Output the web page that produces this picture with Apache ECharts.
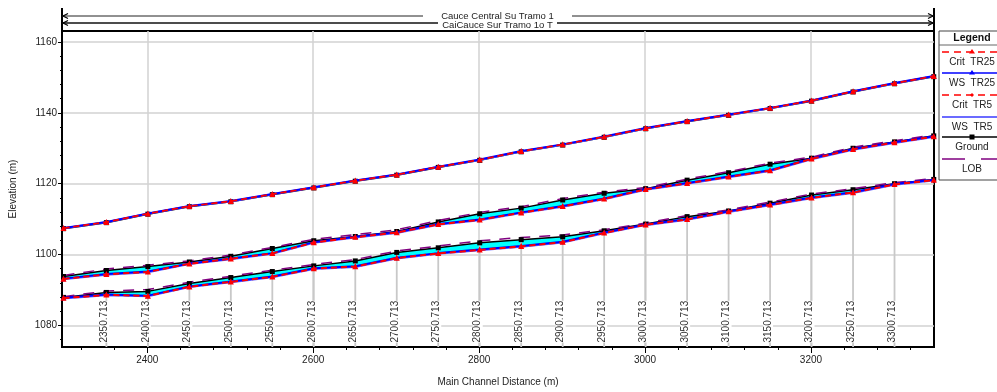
<!DOCTYPE html>
<html>
<head>
<meta charset="utf-8">
<script src="https://cdn.jsdelivr.net/npm/echarts@6/dist/echarts.min.js"></script>
<style>
html, body { margin: 0; padding: 0; background: #fff; }
#chart { width: 997px; height: 392px; }
</style>
</head>
<body>
<div id="chart"></div>
<script>
// Stations along the main channel (m)
const stations = [2299, 2350.713, 2400.713, 2450.713, 2500.713, 2550.713, 2600.713, 2650.713, 2700.713,
  2750.713, 2800.713, 2850.713, 2900.713, 2950.713, 3000.713, 3050.713, 3100.713, 3150.713, 3200.713,
  3250.713, 3300.713, 3348];
const sectionLabels = ['2350.713', '2400.713', '2450.713', '2500.713', '2550.713', '2600.713', '2650.713',
  '2700.713', '2750.713', '2800.713', '2850.713', '2900.713', '2950.713', '3000.713', '3050.713',
  '3100.713', '3150.713', '3200.713', '3250.713', '3300.713'];
const xTicks = [2400, 2600, 2800, 3000, 3200];
const yTicks = [1080, 1100, 1120, 1140, 1160];

// upper reach
const topGround = [1107.3, 1109.0, 1111.4, 1113.5, 1114.9, 1116.9, 1118.8, 1120.7, 1122.4, 1124.6, 1126.6,
  1129.0, 1130.9, 1133.1, 1135.5, 1137.5, 1139.3, 1141.2, 1143.3, 1145.9, 1148.2, 1150.2];
const topLob = [1107.4, 1109.1, 1111.5, 1113.6, 1115.0, 1117.0, 1118.9, 1120.8, 1122.5, 1124.7, 1126.7,
  1129.1, 1131.0, 1133.2, 1135.6, 1137.6, 1139.4, 1141.3, 1143.4, 1146.0, 1148.3, 1150.3];
const topWs25 = [1107.5, 1109.2, 1111.6, 1113.7, 1115.1, 1117.1, 1119.0, 1120.9, 1122.6, 1124.8, 1126.8,
  1129.2, 1131.1, 1133.3, 1135.7, 1137.7, 1139.5, 1141.4, 1143.5, 1146.1, 1148.4, 1150.4];
const topWs5 = [1107.4, 1109.1, 1111.5, 1113.6, 1115.0, 1117.0, 1118.9, 1120.8, 1122.5, 1124.7, 1126.7,
  1129.1, 1131.0, 1133.2, 1135.6, 1137.6, 1139.4, 1141.3, 1143.4, 1146.0, 1148.3, 1150.3];

// middle reach
const midGround = [1093.8, 1095.5, 1096.6, 1097.9, 1099.5, 1101.7, 1103.9, 1105.1, 1106.5, 1109.2, 1111.5,
  1113.1, 1115.4, 1117.3, 1118.6, 1121.0, 1123.1, 1125.5, 1127.2, 1130.0, 1131.8, 1133.5];
const midLob = [1094.1, 1095.9, 1097.0, 1098.2, 1099.9, 1102.0, 1104.3, 1105.6, 1107.0, 1109.6, 1111.9,
  1113.5, 1115.8, 1117.6, 1118.9, 1121.3, 1123.4, 1125.8, 1127.5, 1130.3, 1132.1, 1133.8];
const midWs25 = [1093.2, 1094.5, 1095.2, 1097.5, 1098.9, 1100.4, 1103.5, 1105.0, 1106.3, 1108.6, 1109.9,
  1111.9, 1113.7, 1115.8, 1118.5, 1120.2, 1122.0, 1123.8, 1127.1, 1129.8, 1131.7, 1133.4];
const midWs5 = [1093.0, 1094.3, 1095.0, 1097.3, 1098.7, 1100.2, 1103.3, 1104.8, 1106.1, 1108.4, 1109.7,
  1111.7, 1113.5, 1115.6, 1118.3, 1120.0, 1121.8, 1123.6, 1126.9, 1129.6, 1131.5, 1133.2];

// lower reach
const botGround = [1087.9, 1089.3, 1089.6, 1091.8, 1093.5, 1095.2, 1096.8, 1098.2, 1100.6, 1101.9, 1103.3,
  1104.2, 1105.0, 1106.7, 1108.6, 1110.7, 1112.3, 1114.5, 1116.8, 1118.3, 1120.0, 1121.2];
const botLob = [1088.1, 1089.7, 1090.1, 1092.2, 1093.9, 1095.6, 1097.2, 1098.6, 1101.0, 1102.4, 1103.9,
  1104.8, 1105.5, 1107.0, 1108.9, 1111.0, 1112.6, 1114.8, 1117.1, 1118.6, 1120.3, 1121.5];
const botWs25 = [1087.8, 1088.7, 1088.4, 1091.0, 1092.4, 1093.8, 1096.1, 1096.7, 1099.1, 1100.4, 1101.4,
  1102.4, 1103.6, 1106.2, 1108.5, 1110.0, 1112.2, 1114.1, 1116.1, 1117.6, 1119.9, 1121.1];
const botWs5 = [1087.6, 1088.5, 1088.2, 1090.8, 1092.2, 1093.6, 1095.9, 1096.5, 1098.9, 1100.2, 1101.2,
  1102.2, 1103.4, 1106.0, 1108.3, 1109.8, 1112.0, 1113.9, 1115.9, 1117.4, 1119.7, 1120.9];

const profiles = [
  { ground: topGround, lob: topLob, ws25: topWs25, ws5: topWs5 },
  { ground: midGround, lob: midLob, ws25: midWs25, ws5: midWs5 },
  { ground: botGround, lob: botLob, ws25: botWs25, ws5: botWs5 }
];

const xMin = 2297.2, xMax = 3348.3;
const yMin = 1073.9, yMax = 1163.1;
const FONT = "'Liberation Sans', Arial, sans-serif";

const xMinor = [];
for (let v = 2320; v < xMax; v += 40) xMinor.push(v);
const yMinor = [];
for (let v = 1076; v < yMax; v += 4) yMinor.push(v);

const pair = (arr) => stations.map((s, i) => [s, arr[i]]);

const series = [];

// water fill between ground and water surface
series.push({
  type: 'custom', silent: true, z: 1, clip: true,
  data: profiles.map((p, i) => [2400, 1100, i]),
  renderItem: (params, api) => {
    const p = profiles[api.value(2)];
    const pts = [];
    stations.forEach((s, k) => pts.push(api.coord([s, p.ground[k]])));
    for (let k = stations.length - 1; k >= 0; k--) pts.push(api.coord([stations[k], p.ws25[k]]));
    return { type: 'polygon', shape: { points: pts }, style: { fill: '#00ffff' } };
  }
});

// cross section lines + labels
series.push({
  type: 'custom', silent: true, z: 1,
  data: sectionLabels.map((l, i) => [stations[i + 1], botGround[i + 1]]),
  renderItem: (params, api) => {
    const x = api.value(0);
    const top = api.coord([x, api.value(1)]);
    const base = api.coord([x, yMin]);
    return {
      type: 'group',
      children: [
        { type: 'line', shape: { x1: base[0], y1: base[1], x2: top[0], y2: top[1] },
          style: { stroke: '#c8c8c8', lineWidth: 1.8 } },
        { type: 'text', x: base[0] + 3, y: base[1] - 4.5, rotation: Math.PI / 2,
          style: { text: sectionLabels[params.dataIndex], fill: '#333', fontSize: 10, fontFamily: FONT,
            align: 'left', verticalAlign: 'bottom', textAlign: 'left', textVerticalAlign: 'bottom',
            backgroundColor: '#fff' } }
      ]
    };
  }
});

profiles.forEach((p) => {
  series.push({
    name: 'Ground', type: 'line', z: 3, data: pair(p.ground),
    symbol: 'rect', symbolSize: 5, itemStyle: { color: '#000' },
    lineStyle: { color: '#000', width: 1.5 }
  });
  series.push({
    name: 'LOB', type: 'line', z: 3, data: pair(p.lob), symbol: 'none',
    lineStyle: { color: '#800080', width: 1.5, type: [11, 9] }
  });
  series.push({
    name: 'WS TR5', type: 'line', z: 4, data: pair(p.ws5), symbol: 'none',
    lineStyle: { color: '#6464ff', width: 2 }
  });
  series.push({
    name: 'WS TR25', type: 'line', z: 4, data: pair(p.ws25),
    symbol: 'triangle', symbolSize: 5, itemStyle: { color: '#0000ff' },
    lineStyle: { color: '#0000ff', width: 2 }
  });
  series.push({
    name: 'Crit TR5', type: 'line', z: 5, data: pair(p.ws5),
    symbol: 'diamond', symbolSize: 4, itemStyle: { color: '#ff0000' },
    lineStyle: { color: '#ff0000', width: 1.3, type: [6, 4] }
  });
  series.push({
    name: 'Crit TR25', type: 'line', z: 5, data: pair(p.ws25),
    symbol: 'triangle', symbolSize: 6, itemStyle: { color: '#ff0000' },
    lineStyle: { color: '#ff0000', width: 1.3, type: [6, 4] }
  });
});

// legend drawn as graphic
const legendItems = [
  { name: 'Crit  TR25', y: 21, color: '#ff0000', dash: [7, 5], width: 1.3, mark: 'tri' },
  { name: 'WS  TR25', y: 42, color: '#0000ff', dash: null, width: 1.5, mark: 'tri' },
  { name: 'Crit  TR5', y: 64, color: '#ff0000', dash: [7, 5], width: 1.3, mark: 'dot' },
  { name: 'WS  TR5', y: 86, color: '#6b6bff', dash: null, width: 2, mark: null },
  { name: 'Ground', y: 106, color: '#000', dash: null, width: 1.3, mark: 'sq' },
  { name: 'LOB', y: 128, color: '#800080', dash: [23, 16], width: 1.3, mark: null }
];
const legendChildren = [
  { type: 'rect', shape: { x: 0, y: 0, width: 66, height: 149 }, style: { fill: '#fff', stroke: '#444', lineWidth: 1 } },
  { type: 'text', x: 33, y: 7, style: { text: 'Legend', fontSize: 10.5, fontWeight: 'bold', fontFamily: FONT, fill: '#111',
    align: 'center', verticalAlign: 'middle', textAlign: 'center', textVerticalAlign: 'middle' } },
  { type: 'line', shape: { x1: 0, y1: 14, x2: 66, y2: 14 }, style: { stroke: '#666', lineWidth: 1 } }
];
legendItems.forEach((it) => {
  legendChildren.push({ type: 'line', shape: { x1: 3, y1: it.y, x2: 66, y2: it.y },
    style: { stroke: it.color, lineWidth: it.width, lineDash: it.dash } });
  if (it.mark === 'tri') {
    legendChildren.push({ type: 'polygon', shape: { points: [[33, it.y - 3], [30, it.y + 1.5], [36, it.y + 1.5]] },
      style: { fill: it.color } });
  } else if (it.mark === 'dot') {
    legendChildren.push({ type: 'polygon', shape: { points: [[33, it.y - 2], [35, it.y], [33, it.y + 2], [31, it.y]] },
      style: { fill: it.color } });
  } else if (it.mark === 'sq') {
    legendChildren.push({ type: 'rect', shape: { x: 30.5, y: it.y - 2.5, width: 5, height: 5 }, style: { fill: it.color } });
  }
  legendChildren.push({ type: 'text', x: 33, y: it.y + 10.5,
    style: { text: it.name, fontSize: 10, fontFamily: FONT, fill: '#222',
      align: 'center', verticalAlign: 'middle', textAlign: 'center', textVerticalAlign: 'middle' } });
});

// reach header bars above the plot
const header = [
  { type: 'line', shape: { x1: 62, y1: 8, x2: 62, y2: 31 }, style: { stroke: '#000', lineWidth: 2 } },
  { type: 'line', shape: { x1: 934, y1: 8, x2: 934, y2: 31 }, style: { stroke: '#000', lineWidth: 2 } },
  { type: 'line', shape: { x1: 62, y1: 16, x2: 934, y2: 16 }, style: { stroke: '#222', lineWidth: 1 } },
  { type: 'line', shape: { x1: 62, y1: 23, x2: 934, y2: 23 }, style: { stroke: '#111', lineWidth: 1.3 } },
  { type: 'polyline', shape: { points: [[68, 13.5], [63, 16], [68, 18.5]] }, style: { stroke: '#000', lineWidth: 1.2, fill: null } },
  { type: 'polyline', shape: { points: [[68, 20.5], [63, 23], [68, 25.5]] }, style: { stroke: '#000', lineWidth: 1.2, fill: null } },
  { type: 'polyline', shape: { points: [[928, 13.5], [933, 16], [928, 18.5]] }, style: { stroke: '#000', lineWidth: 1.2, fill: null } },
  { type: 'polyline', shape: { points: [[928, 20.5], [933, 23], [928, 25.5]] }, style: { stroke: '#000', lineWidth: 1.2, fill: null } },
  { type: 'rect', shape: { x: 423, y: 11, width: 149, height: 9 }, style: { fill: '#fff' } },
  { type: 'text', x: 497.5, y: 16.5, style: { text: 'Cauce Central Su Tramo 1', fontSize: 9.5, fontFamily: FONT, fill: '#222',
    align: 'center', verticalAlign: 'middle', textAlign: 'center', textVerticalAlign: 'middle' } },
  { type: 'rect', shape: { x: 438, y: 19, width: 119, height: 11 }, style: { fill: '#fff' } },
  { type: 'text', x: 497.5, y: 25, style: { text: 'CaiCauce Sur Tramo 1o T', fontSize: 9.5, fontFamily: FONT, fill: '#222',
    align: 'center', verticalAlign: 'middle', textAlign: 'center', textVerticalAlign: 'middle' } }
];

const labelStyle = { color: '#222', fontSize: 10, fontFamily: FONT, formatter: (v) => String(v) };

const option = {
  animation: false,
  backgroundColor: '#fff',
  grid: { left: 62, top: 31, width: 872, height: 319, show: true, borderColor: '#000', borderWidth: 2 },
  xAxis: [{
    type: 'value', min: xMin, max: xMax,
    name: 'Main Channel Distance (m)', nameLocation: 'middle', nameGap: 30,
    nameTextStyle: { color: '#222', fontSize: 10, fontFamily: FONT },
    axisLine: { show: true, onZero: false, lineStyle: { color: '#000', width: 2 } },
    axisTick: { show: true, customValues: xTicks, length: 6, lineStyle: { color: '#000', width: 1 } },
    axisLabel: Object.assign({ customValues: xTicks, margin: 8 }, labelStyle),
    splitLine: { show: true, lineStyle: { color: '#d2d2d2', width: 1.5 } }
  }, {
    type: 'value', min: xMin, max: xMax, position: 'bottom',
    axisLine: { show: false },
    axisTick: { show: true, customValues: xMinor, length: 3, lineStyle: { color: '#000', width: 1 } },
    axisLabel: { show: false }, splitLine: { show: false }
  }],
  yAxis: [{
    type: 'value', min: yMin, max: yMax,
    name: 'Elevation (m)', nameLocation: 'middle', nameGap: 44,
    nameTextStyle: { color: '#222', fontSize: 10, fontFamily: FONT },
    axisLine: { show: true, onZero: false, lineStyle: { color: '#000', width: 2 } },
    axisTick: { show: true, customValues: yTicks, length: 4, lineStyle: { color: '#000', width: 1 } },
    axisLabel: Object.assign({ customValues: yTicks, margin: 5 }, labelStyle),
    splitLine: { show: true, lineStyle: { color: '#d2d2d2', width: 1.5 } }
  }, {
    type: 'value', min: yMin, max: yMax, position: 'left',
    axisLine: { show: false },
    axisTick: { show: true, customValues: yMinor, length: 2, lineStyle: { color: '#000', width: 1 } },
    axisLabel: { show: false }, splitLine: { show: false }
  }],
  graphic: [
    { type: 'group', x: 0, y: 0, children: header },
    { type: 'group', x: 939, y: 31, children: legendChildren }
  ],
  series: series
};

const myChart = echarts.init(document.getElementById('chart'));
myChart.setOption(option);
</script>
</body>
</html>
